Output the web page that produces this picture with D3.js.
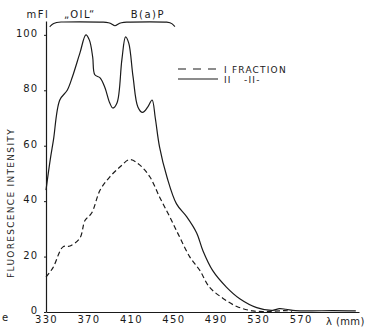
<!DOCTYPE html>
<html>
<head>
<meta charset="utf-8">
<script src="https://cdn.jsdelivr.net/npm/d3@7"></script>
<style>
  html, body { margin: 0; padding: 0; background: #fff; }
  svg text { font-family: "DejaVu Sans", sans-serif; fill: #1a1a1a; }
</style>
</head>
<body>
<div id="chart"></div>
<script>
// wavelength (nm) vs fluorescence intensity (mFl)
const waveII = [330, 334, 337, 343, 350, 355, 362, 367.6, 371, 374, 376, 381, 385.5, 390, 393, 397, 401.5, 405, 408, 412, 416.6, 421, 426, 430, 433, 437, 444, 453, 462.7, 472, 478, 487, 500, 512.6, 528.6, 543.6, 550, 556, 565, 580, 600, 622];
const fracII = [44, 55, 62, 76.5, 80, 85, 93.5, 100, 98, 92, 85.6, 84.5, 81, 75.5, 73.6, 75.5, 91, 99.3, 97, 85, 74, 72, 74, 76.5, 70, 59.6, 48.7, 39, 34.3, 28.5, 22, 15, 9, 4.8, 1.6, 0.6, 1.2, 1.0, 0.5, 0.4, 0.5, 0.4];

const waveI = [330, 336.6, 346, 352.6, 362, 366.7, 373, 381, 390, 399.6, 409, 418.5, 428, 437, 446.7, 456, 465.5, 475, 484, 496.6, 509.8, 525, 540, 555, 562];
const fracI = [12.6, 16, 23.5, 23.8, 26.7, 33, 35.7, 44, 48.7, 52.3, 55, 53, 48.7, 41.5, 34.3, 27, 19.9, 15, 9, 5, 2, 0.4, 0.2, 0.5, 0.3];

const xTicks = [330, 370, 410, 450, 490, 530, 570];
const yTicks = [0, 20, 40, 60, 80, 100];

// bracket over the two peak regions
const bracketX = [333.5, 337, 342, 360, 388, 392, 395, 398, 402, 430, 446, 449, 451.5];
const bracketY = [102.9, 104.2, 104.7, 104.7, 104.7, 104.0, 102.9, 104.0, 104.7, 104.7, 104.7, 104.0, 103.0];

const width = 367, height = 331;

const svg = d3.select('#chart').append('svg')
  .attr('width', width)
  .attr('height', height);

const x = d3.scaleLinear().domain([330, 625]).range([46, 359]);
const y = d3.scaleLinear().domain([0, 105]).range([312, 21]);

const ink = '#1a1a1a';

// y axis
const yAxis = svg.append('g')
  .attr('transform', 'translate(' + x(330) + ',0)')
  .call(d3.axisLeft(y).tickValues(yTicks).tickSize(2).tickSizeOuter(0).tickPadding(6));
yAxis.select('.domain').attr('stroke', ink).attr('stroke-width', 1.2);
yAxis.selectAll('.tick line').attr('stroke', ink);
yAxis.selectAll('.tick text')
  .attr('dy', '0.15em')
  .style('font-size', '10px')
  .style('letter-spacing', '1px')
  .attr('fill', ink);

// x axis
const xAxis = svg.append('g')
  .attr('transform', 'translate(0,' + y(0) + ')')
  .call(d3.axisBottom(x).tickValues(xTicks).tickSize(0).tickSizeOuter(0).tickPadding(4));
xAxis.select('.domain').attr('stroke', ink).attr('stroke-width', 1.2);
xAxis.selectAll('.tick text')
  .style('font-size', '10px')
  .style('letter-spacing', '1.3px')
  .attr('fill', ink);

svg.append('text')
  .attr('x', 326)
  .attr('y', 325)
  .style('font-size', '10px')
  .style('letter-spacing', '0.4px')
  .text('λ (mm)');

// stray scan character at lower left
svg.append('text')
  .attr('x', 2)
  .attr('y', 321)
  .style('font-size', '10px')
  .text('e');

// axis title
svg.append('text')
  .attr('transform', 'translate(14,203) rotate(-90)')
  .attr('text-anchor', 'middle')
  .style('font-size', '9px')
  .style('letter-spacing', '1.3px')
  .text('FLUORESCENCE INTENSITY');

// unit and region labels
svg.append('text')
  .attr('x', 38).attr('y', 18)
  .attr('text-anchor', 'middle')
  .style('font-size', '10px')
  .style('letter-spacing', '1.5px')
  .text('mFl');
svg.append('text')
  .attr('x', x(362)).attr('y', 18)
  .attr('text-anchor', 'middle')
  .style('font-size', '10px')
  .style('letter-spacing', '1.5px')
  .text('„OIL“');
svg.append('text')
  .attr('x', x(426)).attr('y', 18)
  .attr('text-anchor', 'middle')
  .style('font-size', '10px')
  .style('letter-spacing', '1.5px')
  .text('B(a)P');

const bracketLine = d3.line()
  .x(function(d) { return x(d[0]); })
  .y(function(d) { return y(d[1]); })
  .curve(d3.curveBasis);

svg.append('path')
  .datum(d3.zip(bracketX, bracketY))
  .attr('d', bracketLine)
  .attr('fill', 'none')
  .attr('stroke', ink)
  .attr('stroke-width', 1.1);

// curves
const line = d3.line()
  .x(function(d) { return x(d[0]); })
  .y(function(d) { return y(d[1]); })
  .curve(d3.curveCatmullRom.alpha(0.5));

svg.append('path')
  .datum(d3.zip(waveII, fracII))
  .attr('d', line)
  .attr('fill', 'none')
  .attr('stroke', ink)
  .attr('stroke-width', 1.2);

svg.append('path')
  .datum(d3.zip(waveI, fracI))
  .attr('d', line)
  .attr('fill', 'none')
  .attr('stroke', ink)
  .attr('stroke-width', 1.2)
  .attr('stroke-dasharray', '5,3');

// legend
const legend = svg.append('g');
legend.append('line')
  .attr('x1', 178).attr('x2', 218)
  .attr('y1', 69).attr('y2', 69)
  .attr('stroke', ink)
  .attr('stroke-width', 1.2)
  .attr('stroke-dasharray', '8,7');
legend.append('text')
  .attr('x', 224).attr('y', 72.5)
  .style('font-size', '9px')
  .style('letter-spacing', '1.2px')
  .text('I FRACTION');
legend.append('line')
  .attr('x1', 178).attr('x2', 218)
  .attr('y1', 79).attr('y2', 79)
  .attr('stroke', ink)
  .attr('stroke-width', 1.2);
legend.append('text')
  .attr('x', 224).attr('y', 83)
  .style('font-size', '9px')
  .style('letter-spacing', '1.2px')
  .text('II');
legend.append('text')
  .attr('x', 244).attr('y', 83)
  .style('font-size', '9px')
  .style('letter-spacing', '1.2px')
  .text('-II-');
</script>
</body>
</html>
